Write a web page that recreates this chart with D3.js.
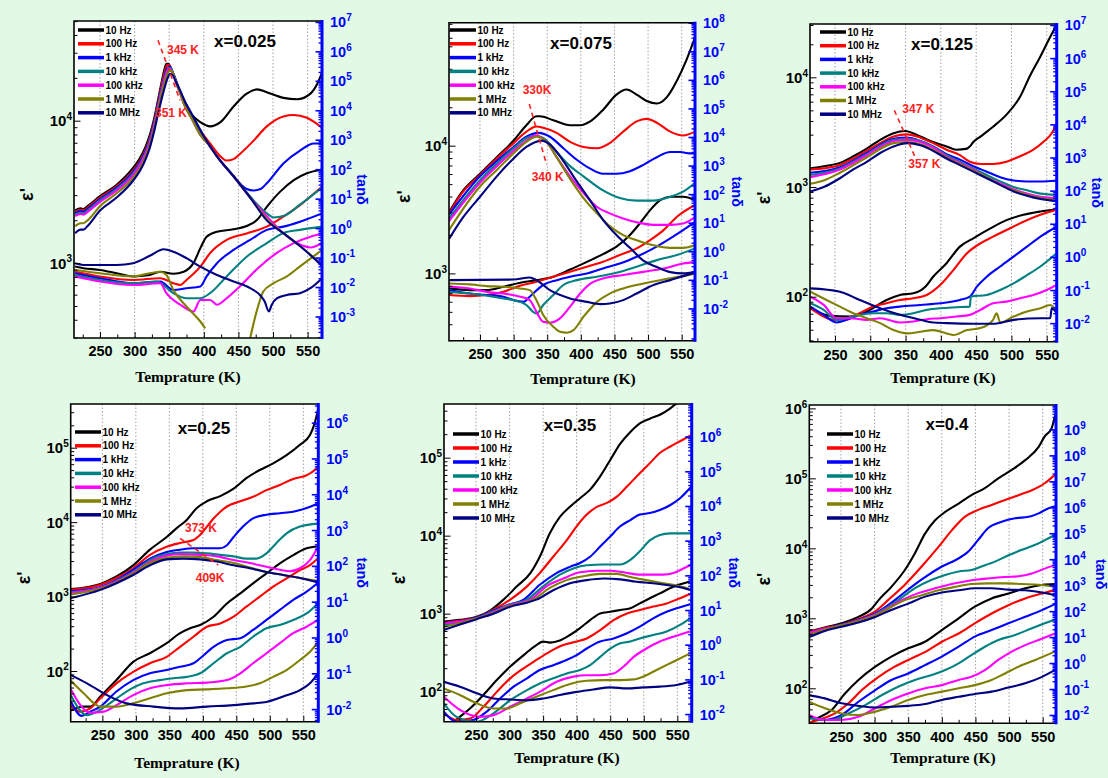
<!DOCTYPE html>
<html>
<head>
<meta charset="utf-8">
<script src="https://cdn.jsdelivr.net/npm/d3@7"></script>
<style>
  body { margin: 0; background: #e1f9e5; }
  svg { display: block; }
</style>
</head>
<body>
<svg width="1108" height="778"></svg>
<script>
const svg = d3.select('svg')

const freqs = ['10 Hz', '100 Hz', '1 kHz', '10 kHz', '100 kHz', '1 MHz', '10 MHz']
const colors = ['#000000', '#ff0000', '#0000ff', '#008080', '#ff00ff', '#808000', '#000080']
const titles = ['x=0.025', 'x=0.075', 'x=0.125', 'x=0.25', 'x=0.35', 'x=0.4']
const tempTicks = [250, 300, 350, 400, 450, 500, 550]
const tempMinor = [225, 275, 325, 375, 425, 475, 525, 575]

// every series: [temperature K, log10 of value], one array per frequency (10 Hz ... 10 MHz)
const eps025 = [
  [[214,3.37],[222,3.385],[226,3.38],[232,3.40],[250,3.47],[274,3.55],[298,3.67],[308,3.74],[316,3.82],[322,3.90],[328,4.01],[334,4.15],[339,4.27],[343,4.36],[346,4.40],[349,4.40],[353,4.36],[358,4.30],[364,4.22],[371,4.15],[383,4.04],[395,3.99],[409,3.96],[424,3.99],[443,4.10],[462,4.19],[477,4.22],[491,4.20],[515,4.16],[535,4.15],[554,4.19],[564,4.26],[571,4.34]],
  [[214,3.36],[222,3.375],[226,3.37],[232,3.39],[250,3.46],[274,3.54],[298,3.65],[308,3.72],[316,3.80],[322,3.88],[328,3.99],[334,4.13],[339,4.25],[344,4.35],[347,4.39],[350,4.39],[354,4.35],[359,4.29],[365,4.21],[371,4.14],[383,4.03],[395,3.93],[409,3.84],[424,3.75],[433,3.72],[443,3.73],[453,3.77],[472,3.86],[491,3.96],[515,4.03],[530,4.04],[549,4.02],[571,3.95]],
  [[214,3.35],[222,3.365],[226,3.36],[232,3.38],[250,3.45],[274,3.53],[298,3.64],[308,3.71],[316,3.79],[322,3.87],[328,3.98],[334,4.12],[340,4.25],[345,4.34],[348,4.38],[351,4.38],[355,4.34],[360,4.28],[365,4.21],[371,4.13],[383,4.02],[395,3.91],[409,3.82],[419,3.75],[443,3.61],[462,3.52],[472,3.51],[482,3.52],[491,3.56],[515,3.70],[539,3.79],[559,3.84],[571,3.84]],
  [[214,3.34],[222,3.355],[226,3.35],[232,3.37],[250,3.44],[274,3.52],[298,3.63],[308,3.70],[316,3.78],[322,3.86],[328,3.97],[334,4.11],[340,4.24],[345,4.33],[349,4.37],[352,4.37],[356,4.33],[361,4.26],[366,4.20],[371,4.13],[383,4.02],[395,3.91],[409,3.82],[419,3.75],[443,3.61],[453,3.55],[472,3.44],[491,3.35],[501,3.32],[515,3.33],[539,3.41],[571,3.53]],
  [[214,3.33],[222,3.345],[226,3.34],[232,3.36],[250,3.43],[274,3.51],[298,3.62],[308,3.69],[316,3.77],[322,3.85],[328,3.96],[334,4.10],[340,4.23],[345,4.32],[349,4.36],[352,4.36],[356,4.32],[361,4.25],[366,4.19],[371,4.12],[383,4.01],[395,3.90],[409,3.82],[419,3.75],[443,3.61],[467,3.46],[491,3.33],[515,3.21],[539,3.13],[554,3.11],[571,3.14]],
  [[214,3.26],[222,3.28],[226,3.28],[232,3.30],[250,3.40],[274,3.49],[298,3.60],[308,3.67],[316,3.75],[322,3.83],[328,3.94],[334,4.08],[340,4.21],[346,4.31],[350,4.35],[353,4.35],[357,4.31],[362,4.24],[367,4.18],[371,4.12],[383,4.01],[395,3.90],[409,3.82],[419,3.75],[443,3.61],[467,3.46],[491,3.31],[515,3.21],[539,3.12],[571,2.99]],
  [[214,3.21],[222,3.235],[226,3.235],[232,3.26],[250,3.37],[274,3.46],[298,3.58],[308,3.65],[316,3.73],[322,3.81],[328,3.92],[334,4.05],[341,4.19],[347,4.29],[351,4.33],[355,4.32],[360,4.27],[366,4.21],[373,4.13],[380,4.07],[390,3.98],[400,3.89],[419,3.75],[443,3.61],[467,3.46],[491,3.30],[515,3.21],[539,3.12],[571,2.98]]
]
const tan025 = [
  [[214,-1.30],[226,-1.36],[250,-1.42],[274,-1.53],[298,-1.64],[322,-1.59],[337,-1.48],[356,-1.55],[371,-1.48],[385,-1.19],[395,-0.68],[404,-0.29],[419,-0.12],[443,-0.04],[462,0.07],[477,0.28],[491,0.72],[510,1.23],[530,1.63],[549,1.86],[571,1.99]],
  [[214,-1.47],[250,-1.64],[298,-1.76],[337,-1.70],[356,-1.87],[366,-1.93],[375,-1.76],[395,-1.31],[409,-0.85],[433,-0.40],[462,-0.18],[491,0.05],[515,0.39],[539,0.78],[571,1.41]],
  [[214,-1.53],[250,-1.70],[298,-1.87],[337,-1.81],[356,-2.10],[375,-2.04],[395,-1.98],[404,-1.64],[419,-1.19],[443,-0.74],[467,-0.40],[491,-0.06],[515,0.05],[539,0.22],[571,0.50]],
  [[214,-1.59],[250,-1.76],[298,-1.87],[332,-1.81],[356,-2.21],[375,-2.38],[395,-2.38],[409,-2.21],[433,-1.64],[462,-0.97],[491,-0.51],[515,-0.17],[539,-0.06],[571,0.05]],
  [[214,-1.64],[250,-1.81],[298,-1.93],[337,-1.87],[346,-2.21],[366,-2.60],[385,-2.83],[395,-2.44],[409,-2.44],[419,-2.60],[433,-2.38],[452,-1.98],[481,-1.30],[505,-0.85],[530,-0.51],[554,-0.29],[571,-0.18]],
  [[214,-1.42],[250,-1.53],[298,-1.64],[322,-1.53],[337,-1.48],[346,-1.59],[356,-2.10],[375,-2.66],[395,-3.17],[402,-3.40],[402,null],[467,-3.73],[477,-2.77],[486,-2.15],[501,-1.87],[520,-1.64],[539,-1.30],[571,-0.74]],
  [[214,-1.19],[226,-1.25],[250,-1.25],[274,-1.25],[298,-1.19],[322,-0.94],[342,-0.72],[356,-0.80],[375,-1.02],[395,-1.31],[419,-1.59],[443,-1.81],[467,-2.04],[481,-2.27],[488,-2.49],[494,-2.83],[498,-2.61],[506,-2.38],[520,-2.27],[539,-2.21],[554,-2.04],[571,-1.70]]
]

const eps075 = [
  [[204,3.48],[225,3.65],[250,3.78],[275,3.91],[300,4.04],[319,4.16],[334,4.23],[339,4.23],[359,4.20],[384,4.16],[399,4.16],[414,4.19],[433,4.28],[453,4.40],[468,4.44],[483,4.40],[498,4.35],[513,4.33],[528,4.38],[543,4.51],[557,4.67],[570,4.85]],
  [[204,3.47],[225,3.64],[250,3.77],[275,3.90],[300,4.02],[319,4.11],[334,4.15],[344,4.14],[364,4.10],[384,4.03],[404,3.99],[424,3.98],[443,4.02],[463,4.11],[483,4.19],[498,4.21],[513,4.18],[533,4.11],[552,4.08],[570,4.11]],
  [[204,3.46],[250,3.76],[275,3.88],[300,3.99],[319,4.07],[337,4.10],[354,4.07],[374,3.98],[394,3.89],[414,3.82],[433,3.78],[453,3.78],[473,3.80],[493,3.85],[513,3.91],[533,3.95],[548,3.95],[562,3.94],[570,3.94]],
  [[204,3.43],[250,3.73],[275,3.86],[300,3.98],[319,4.06],[332,4.08],[344,4.06],[364,3.95],[384,3.84],[404,3.76],[433,3.65],[458,3.59],[483,3.57],[508,3.57],[533,3.60],[552,3.64],[570,3.71]],
  [[204,3.41],[250,3.71],[275,3.84],[300,3.96],[319,4.04],[332,4.08],[349,4.03],[364,3.91],[384,3.76],[404,3.63],[424,3.52],[443,3.47],[463,3.43],[483,3.40],[508,3.38],[533,3.38],[552,3.39],[570,3.44]],
  [[204,3.34],[250,3.68],[275,3.81],[300,3.94],[319,4.03],[334,4.07],[349,4.03],[364,3.91],[384,3.74],[404,3.59],[424,3.47],[443,3.37],[463,3.30],[483,3.26],[508,3.22],[533,3.20],[552,3.20],[570,3.22]],
  [[204,3.27],[225,3.44],[250,3.60],[275,3.76],[300,3.90],[319,3.99],[342,4.04],[354,4.01],[374,3.88],[394,3.72],[414,3.57],[433,3.42],[453,3.30],[473,3.20],[493,3.10],[513,3.05],[533,3.01],[552,3.00],[570,3.01]]
]
const tan075 = [
  [[204,-1.30],[235,-1.36],[260,-1.36],[285,-1.24],[310,-1.10],[334,-1.01],[359,-0.89],[384,-0.64],[409,-0.37],[433,-0.10],[453,0.16],[473,0.57],[488,0.98],[503,1.44],[518,1.79],[533,1.91],[552,1.91],[570,1.79]],
  [[204,-1.53],[235,-1.57],[260,-1.53],[285,-1.42],[305,-1.24],[334,-1.07],[359,-0.89],[384,-0.72],[409,-0.54],[433,-0.37],[458,-0.13],[483,0.10],[503,0.39],[523,0.74],[543,1.21],[570,1.62]],
  [[204,-1.36],[235,-1.48],[260,-1.53],[285,-1.59],[300,-1.71],[315,-1.77],[324,-1.59],[344,-1.18],[364,-1.01],[384,-0.89],[409,-0.78],[433,-0.60],[458,-0.43],[483,-0.19],[508,0.10],[533,0.45],[552,0.74],[570,1.03]],
  [[204,-1.42],[235,-1.48],[285,-1.65],[300,-1.71],[319,-1.88],[329,-2.12],[334,-2.18],[344,-1.88],[359,-1.53],[374,-1.18],[394,-1.01],[424,-0.89],[453,-0.75],[483,-0.54],[513,-0.31],[543,-0.13],[570,0.10]],
  [[204,-1.24],[235,-1.30],[260,-1.42],[285,-1.48],[310,-1.59],[324,-1.71],[334,-2.12],[344,-2.47],[354,-2.50],[369,-2.35],[384,-1.94],[399,-1.48],[414,-1.13],[433,-0.95],[463,-0.83],[493,-0.72],[523,-0.60],[552,-0.43],[570,-0.37]],
  [[204,-1.13],[235,-1.16],[260,-1.22],[285,-1.24],[310,-1.30],[324,-1.36],[334,-1.71],[344,-2.23],[359,-2.64],[369,-2.82],[379,-2.85],[389,-2.76],[404,-2.29],[424,-1.77],[443,-1.48],[463,-1.30],[493,-1.13],[523,-0.99],[552,-0.87],[570,-0.78]],
  [[204,-1.01],[300,-0.99],[324,-0.92],[334,-1.01],[354,-1.36],[384,-1.65],[409,-1.77],[429,-1.85],[443,-1.83],[463,-1.71],[483,-1.48],[508,-1.18],[533,-1.01],[552,-0.87],[570,-0.75]]
]

const eps125 = [
  [[215,3.17],[234,3.19],[257,3.22],[276,3.28],[295,3.35],[314,3.43],[333,3.49],[349,3.51],[371,3.46],[389,3.41],[408,3.37],[422,3.34],[437,3.35],[441,3.37],[446,3.41],[456,3.46],[474,3.55],[493,3.66],[512,3.82],[526,4.01],[541,4.19],[555,4.37],[564,4.48]],
  [[215,3.16],[234,3.17],[257,3.20],[276,3.26],[295,3.33],[314,3.40],[333,3.46],[352,3.48],[371,3.45],[389,3.40],[408,3.34],[427,3.29],[441,3.23],[456,3.21],[474,3.21],[493,3.23],[512,3.28],[531,3.34],[545,3.41],[557,3.49],[564,3.58]],
  [[215,3.13],[257,3.18],[295,3.31],[333,3.44],[352,3.45],[371,3.42],[389,3.37],[408,3.30],[427,3.25],[446,3.19],[465,3.14],[484,3.09],[503,3.06],[522,3.05],[541,3.05],[564,3.06]],
  [[215,3.11],[257,3.17],[295,3.30],[333,3.43],[352,3.44],[371,3.42],[389,3.37],[408,3.29],[427,3.23],[446,3.17],[465,3.11],[484,3.05],[503,3.00],[522,2.97],[541,2.94],[564,2.93]],
  [[215,3.09],[257,3.16],[295,3.29],[333,3.42],[352,3.43],[371,3.41],[389,3.36],[408,3.28],[427,3.22],[446,3.16],[465,3.09],[484,3.03],[503,2.98],[522,2.94],[541,2.91],[564,2.90]],
  [[215,3.03],[234,3.06],[257,3.13],[295,3.27],[333,3.40],[352,3.41],[371,3.39],[389,3.34],[408,3.27],[427,3.21],[446,3.15],[465,3.09],[484,3.02],[503,2.97],[522,2.93],[541,2.90],[564,2.88]],
  [[215,2.96],[234,3.00],[257,3.08],[276,3.16],[295,3.23],[314,3.31],[333,3.37],[353,3.40],[371,3.38],[389,3.33],[408,3.26],[427,3.20],[446,3.14],[465,3.08],[484,3.02],[503,2.96],[522,2.92],[541,2.89],[564,2.87]]
]
const tan125 = [
  [[215,-1.55],[243,-1.78],[271,-1.80],[295,-1.65],[323,-1.30],[342,-1.15],[361,-1.10],[378,-0.90],[389,-0.60],[408,-0.19],[427,0.31],[446,0.56],[470,0.86],[493,1.11],[517,1.27],[541,1.37],[564,1.44]],
  [[215,-1.55],[234,-1.80],[248,-1.90],[267,-1.85],[285,-1.70],[304,-1.50],[323,-1.40],[342,-1.30],[361,-1.25],[380,-1.15],[399,-0.85],[418,-0.39],[437,0.11],[456,0.41],[474,0.61],[493,0.81],[517,1.06],[541,1.27],[564,1.42]],
  [[215,-1.50],[234,-1.75],[252,-1.98],[267,-1.90],[285,-1.75],[304,-1.65],[323,-1.55],[342,-1.50],[371,-1.45],[399,-1.40],[427,-1.30],[441,-1.20],[451,-0.90],[465,-0.60],[484,-0.29],[503,0.01],[522,0.31],[541,0.61],[564,0.91]],
  [[215,-1.40],[234,-1.60],[252,-1.90],[267,-1.85],[285,-1.75],[304,-1.70],[323,-1.70],[342,-1.75],[361,-1.70],[380,-1.60],[399,-1.55],[422,-1.52],[441,-1.50],[442.5,-1.20],[465,-1.15],[484,-1.00],[503,-0.80],[522,-0.55],[541,-0.29],[564,0.11]],
  [[215,-1.20],[234,-1.45],[252,-1.85],[271,-1.85],[295,-1.90],[314,-1.85],[342,-1.98],[361,-1.95],[380,-1.88],[399,-1.85],[422,-1.80],[441,-1.75],[456,-1.60],[474,-1.40],[493,-1.35],[512,-1.25],[531,-1.15],[550,-1.00],[564,-0.85]],
  [[215,-1.05],[238,-1.30],[257,-1.50],[276,-1.70],[295,-1.85],[314,-2.00],[333,-2.21],[352,-2.31],[371,-2.26],[389,-2.21],[408,-2.31],[418,-2.36],[437,-2.21],[456,-2.15],[474,-1.90],[479,-1.70],[484,-1.98],[503,-1.80],[522,-1.65],[541,-1.55],[555,-1.45],[564,-1.65]],
  [[215,-0.95],[257,-1.05],[285,-1.30],[314,-1.55],[342,-1.75],[371,-1.90],[389,-1.98],[408,-2.00],[446,-2.02],[474,-2.02],[503,-1.90],[541,-1.85],[555,-1.85],[557,-1.55],[564,-1.70]]
]

const eps25 = [
  [[203,3.10],[247,3.17],[271,3.27],[296,3.42],[321,3.63],[346,3.80],[361,3.92],[376,4.03],[391,4.19],[406,4.28],[426,4.35],[446,4.45],[465,4.59],[485,4.70],[505,4.79],[525,4.90],[545,5.04],[560,5.17],[567,5.33],[572,5.51]],
  [[203,3.09],[247,3.16],[271,3.25],[296,3.38],[321,3.56],[346,3.67],[366,3.72],[386,3.76],[396,3.83],[416,4.05],[436,4.21],[456,4.28],[475,4.34],[495,4.43],[515,4.50],[535,4.58],[555,4.63],[567,4.70],[572,4.75]],
  [[203,3.07],[247,3.13],[271,3.22],[296,3.36],[321,3.51],[346,3.60],[366,3.63],[386,3.65],[406,3.65],[426,3.65],[436,3.69],[446,3.80],[460,3.94],[475,4.05],[495,4.10],[515,4.12],[535,4.14],[555,4.19],[572,4.25]],
  [[203,3.06],[247,3.12],[271,3.21],[296,3.33],[321,3.49],[346,3.57],[366,3.59],[386,3.59],[406,3.58],[426,3.56],[446,3.54],[465,3.51],[480,3.51],[495,3.58],[510,3.72],[525,3.85],[545,3.94],[572,3.98]],
  [[203,3.05],[247,3.12],[271,3.20],[296,3.32],[321,3.47],[346,3.55],[366,3.57],[396,3.56],[421,3.54],[446,3.49],[470,3.45],[495,3.40],[515,3.36],[530,3.34],[545,3.38],[560,3.49],[572,3.67]],
  [[203,3.03],[247,3.11],[271,3.19],[296,3.31],[321,3.45],[346,3.52],[371,3.54],[396,3.53],[421,3.49],[446,3.45],[470,3.39],[495,3.33],[520,3.29],[545,3.25],[572,3.21]],
  [[203,2.98],[247,3.09],[271,3.18],[296,3.29],[321,3.42],[346,3.50],[371,3.51],[396,3.50],[421,3.47],[446,3.42],[470,3.38],[495,3.33],[520,3.29],[545,3.25],[572,3.19]]
]
const tan25 = [
  [[203,-2.03],[222,-1.93],[232,-1.93],[247,-1.65],[271,-1.19],[296,-0.68],[321,-0.44],[346,-0.16],[366,0.12],[381,0.26],[396,0.35],[416,0.58],[436,0.95],[456,1.23],[475,1.51],[495,1.79],[515,2.07],[535,2.30],[555,2.49],[572,2.54]],
  [[203,-1.91],[217,-2.07],[232,-1.98],[247,-1.70],[271,-1.28],[296,-0.96],[321,-0.72],[346,-0.54],[366,-0.26],[386,0.02],[406,0.30],[426,0.39],[446,0.58],[465,0.86],[485,1.14],[505,1.42],[525,1.65],[545,1.88],[560,2.02],[572,2.21]],
  [[203,-1.79],[219,-2.19],[232,-2.07],[247,-1.93],[271,-1.51],[296,-1.19],[321,-1.00],[346,-0.91],[366,-0.82],[386,-0.72],[396,-0.58],[416,-0.26],[436,-0.07],[456,-0.02],[475,0.21],[495,0.49],[515,0.77],[535,1.05],[555,1.28],[572,1.53]],
  [[203,-1.61],[227,-2.17],[242,-2.07],[261,-1.84],[286,-1.51],[311,-1.28],[336,-1.19],[356,-1.14],[376,-1.10],[396,-1.00],[416,-0.72],[436,-0.44],[456,-0.26],[475,0.02],[495,0.26],[515,0.35],[535,0.49],[555,0.67],[572,0.95]],
  [[203,-1.45],[232,-2.10],[252,-2.07],[271,-1.89],[296,-1.61],[321,-1.42],[346,-1.33],[376,-1.28],[406,-1.26],[436,-1.19],[456,-1.00],[475,-0.72],[495,-0.44],[515,-0.16],[535,0.12],[555,0.30],[572,0.49]],
  [[203,-1.21],[222,-1.56],[247,-1.93],[271,-1.93],[296,-1.84],[321,-1.70],[346,-1.56],[376,-1.47],[406,-1.45],[436,-1.42],[465,-1.37],[485,-1.28],[505,-1.10],[525,-0.91],[545,-0.63],[560,-0.40],[572,-0.12]],
  [[203,-1.05],[227,-1.28],[257,-1.61],[286,-1.84],[326,-1.93],[366,-1.98],[406,-1.93],[446,-1.89],[475,-1.84],[495,-1.80],[520,-1.65],[545,-1.47],[560,-1.28],[572,-1.00]]
]

const eps35 = [
  [[202,2.90],[226,2.92],[251,2.96],[271,3.04],[291,3.18],[311,3.35],[331,3.52],[345,3.73],[360,4.03],[375,4.24],[390,4.37],[405,4.48],[420,4.59],[435,4.76],[450,4.97],[465,5.18],[480,5.33],[494,5.44],[509,5.50],[524,5.55],[539,5.63],[552,5.72]],
  [[202,2.89],[226,2.91],[251,2.95],[276,3.05],[301,3.18],[326,3.35],[345,3.52],[365,3.73],[385,3.94],[400,4.12],[415,4.27],[430,4.37],[445,4.42],[460,4.50],[475,4.63],[494,4.80],[509,4.93],[524,5.06],[539,5.14],[554,5.21],[571,5.29]],
  [[202,2.88],[226,2.90],[251,2.95],[276,3.04],[301,3.12],[321,3.18],[345,3.37],[370,3.52],[390,3.60],[405,3.65],[420,3.73],[435,3.86],[450,3.99],[465,4.12],[480,4.20],[494,4.27],[509,4.29],[524,4.33],[539,4.39],[554,4.48],[571,4.63]],
  [[202,2.86],[226,2.89],[251,2.94],[276,3.03],[301,3.12],[326,3.18],[350,3.35],[375,3.50],[395,3.58],[415,3.62],[440,3.63],[465,3.63],[480,3.69],[494,3.80],[509,3.94],[524,4.01],[539,4.03],[571,4.03]],
  [[202,2.88],[226,2.90],[251,2.94],[276,3.02],[301,3.11],[321,3.15],[331,3.18],[355,3.35],[380,3.45],[405,3.53],[430,3.55],[450,3.55],[470,3.53],[494,3.50],[514,3.50],[529,3.50],[544,3.52],[559,3.58],[571,3.63]],
  [[202,2.83],[226,2.88],[251,2.94],[276,3.01],[301,3.10],[326,3.15],[335,3.18],[360,3.33],[385,3.43],[410,3.48],[435,3.51],[460,3.51],[480,3.47],[504,3.43],[529,3.39],[549,3.36],[571,3.31]],
  [[202,2.79],[226,2.86],[251,2.93],[276,3.00],[301,3.09],[326,3.14],[340,3.18],[365,3.30],[390,3.39],[415,3.43],[440,3.45],[465,3.44],[489,3.41],[514,3.39],[539,3.36],[559,3.33],[571,3.30]]
]
const tan35 = [
  [[211,-2.32],[226,-2.08],[241,-1.84],[261,-1.45],[281,-1.02],[301,-0.63],[321,-0.30],[340,-0.01],[350,0.09],[360,0.06],[375,0.12],[390,0.28],[405,0.48],[420,0.71],[435,0.90],[450,0.95],[465,1.00],[480,1.05],[494,1.19],[509,1.34],[524,1.48],[544,1.67],[569,1.82]],
  [[202,-1.98],[221,-2.17],[241,-2.13],[261,-1.79],[281,-1.36],[301,-0.97],[321,-0.68],[340,-0.44],[360,-0.20],[380,-0.01],[400,0.09],[415,0.18],[435,0.42],[455,0.71],[475,0.90],[494,1.00],[514,1.10],[534,1.19],[554,1.34],[569,1.46]],
  [[202,-1.93],[221,-2.22],[246,-2.17],[266,-1.93],[286,-1.55],[306,-1.21],[326,-0.97],[345,-0.73],[365,-0.59],[385,-0.44],[400,-0.30],[415,-0.11],[435,0.09],[455,0.18],[475,0.33],[494,0.52],[514,0.76],[534,0.95],[554,1.08],[569,1.17]],
  [[202,-1.69],[221,-2.08],[251,-2.22],[276,-1.98],[301,-1.60],[326,-1.31],[345,-1.12],[365,-0.97],[385,-0.83],[405,-0.73],[420,-0.59],[435,-0.35],[450,-0.11],[465,0.04],[480,0.09],[494,0.18],[514,0.28],[534,0.38],[554,0.57],[569,0.76]],
  [[202,-1.50],[226,-1.88],[256,-2.08],[276,-2.03],[301,-1.79],[326,-1.55],[345,-1.36],[370,-1.07],[395,-0.92],[415,-0.88],[435,-0.88],[455,-0.83],[470,-0.63],[485,-0.35],[504,-0.11],[524,0.09],[544,0.23],[569,0.38]],
  [[202,-1.26],[226,-1.45],[251,-1.69],[276,-1.84],[296,-1.84],[316,-1.69],[340,-1.50],[365,-1.31],[390,-1.13],[415,-1.04],[440,-1.02],[465,-1.02],[485,-1.00],[499,-0.92],[519,-0.73],[544,-0.49],[569,-0.25]],
  [[202,-1.07],[226,-1.21],[251,-1.40],[276,-1.55],[301,-1.58],[326,-1.60],[350,-1.55],[375,-1.45],[400,-1.36],[425,-1.29],[450,-1.23],[475,-1.26],[499,-1.23],[524,-1.21],[549,-1.16],[569,-1.07]]
]

const eps4 = [
  [[202,2.81],[226,2.87],[251,2.93],[276,3.02],[296,3.14],[306,3.26],[325,3.45],[345,3.69],[360,3.93],[375,4.21],[390,4.40],[405,4.52],[425,4.64],[444,4.76],[464,4.86],[484,5.00],[504,5.12],[524,5.26],[544,5.45],[553,5.60],[563,5.71],[568,5.88],[571,6.00]],
  [[202,2.80],[226,2.86],[251,2.91],[276,2.99],[301,3.10],[320,3.26],[345,3.48],[370,3.74],[395,4.02],[415,4.26],[434,4.45],[454,4.55],[474,4.62],[494,4.69],[514,4.76],[534,4.83],[553,4.93],[568,5.05]],
  [[202,2.79],[226,2.85],[251,2.91],[276,2.98],[301,3.07],[330,3.26],[355,3.45],[380,3.62],[400,3.74],[420,3.83],[439,3.95],[454,4.12],[469,4.29],[489,4.38],[509,4.43],[529,4.45],[544,4.50],[558,4.57],[568,4.60]],
  [[202,2.77],[226,2.84],[251,2.90],[276,2.97],[301,3.06],[335,3.26],[360,3.43],[385,3.55],[405,3.62],[425,3.67],[444,3.69],[459,3.74],[479,3.81],[499,3.90],[519,3.98],[539,4.05],[558,4.14],[568,4.19]],
  [[202,2.79],[226,2.85],[251,2.90],[276,2.97],[301,3.05],[340,3.26],[365,3.36],[390,3.43],[410,3.48],[430,3.52],[449,3.55],[469,3.57],[494,3.59],[514,3.60],[534,3.64],[553,3.71],[568,3.76]],
  [[202,2.76],[226,2.84],[251,2.90],[276,2.96],[301,3.04],[345,3.26],[370,3.33],[395,3.40],[420,3.45],[444,3.49],[469,3.50],[494,3.50],[519,3.49],[544,3.48],[568,3.45]],
  [[202,2.73],[226,2.82],[251,2.88],[276,2.94],[301,3.02],[325,3.12],[350,3.21],[375,3.31],[400,3.37],[425,3.40],[449,3.43],[474,3.43],[499,3.41],[524,3.40],[549,3.37],[568,3.33]]
]
const tan4 = [
  [[202,-2.39],[211,-2.19],[236,-1.81],[256,-1.17],[276,-0.65],[301,-0.14],[325,0.25],[350,0.57],[375,0.82],[400,1.27],[425,1.72],[449,2.17],[474,2.49],[499,2.68],[524,2.88],[549,3.01],[568,3.04]],
  [[202,-2.30],[216,-2.19],[241,-1.94],[261,-1.55],[281,-1.04],[306,-0.53],[330,-0.14],[355,0.18],[380,0.50],[400,0.82],[425,1.14],[449,1.53],[474,1.91],[499,2.23],[524,2.49],[549,2.68],[568,2.81]],
  [[202,-2.07],[226,-2.19],[251,-2.00],[276,-1.49],[301,-1.04],[325,-0.65],[350,-0.40],[375,-0.08],[400,0.25],[425,0.63],[449,1.02],[474,1.27],[499,1.53],[524,1.78],[549,2.04],[568,2.27]],
  [[202,-2.13],[236,-2.19],[261,-1.94],[286,-1.62],[311,-1.23],[335,-0.91],[360,-0.65],[385,-0.46],[405,-0.27],[425,-0.01],[444,0.31],[464,0.63],[484,0.89],[509,1.08],[534,1.34],[553,1.53],[568,1.68]],
  [[202,-2.00],[226,-2.19],[251,-2.19],[276,-2.07],[301,-1.74],[325,-1.42],[350,-1.17],[375,-0.97],[400,-0.85],[425,-0.65],[444,-0.53],[464,-0.27],[484,0.12],[504,0.44],[524,0.69],[544,0.89],[568,1.14]],
  [[202,-1.49],[226,-1.74],[251,-1.94],[276,-2.00],[301,-1.87],[325,-1.68],[350,-1.42],[375,-1.23],[400,-1.10],[425,-0.97],[449,-0.85],[474,-0.65],[494,-0.40],[514,-0.14],[539,0.12],[568,0.44]],
  [[202,-1.23],[226,-1.36],[251,-1.55],[276,-1.65],[301,-1.71],[325,-1.68],[350,-1.65],[375,-1.58],[400,-1.42],[425,-1.30],[449,-1.19],[474,-1.10],[499,-0.94],[524,-0.78],[549,-0.53],[568,-0.27]]
]

// peak temperature notes: [T, log10 eps'] where the text sits, dashed guide between two points
const notes025 = { labels: [[346.8, 4.467, '345 K'], [329.5, 4.025, '351 K']], dash: [[333.8, 4.565], [365.6, 4.144]] }
const notes075 = { labels: [[313.5, 4.405, '330K'], [326.9, 3.723, '340 K']], dash: [[323.3, 4.326], [349.2, 3.849]] }
const notes125 = { labels: [[345.4, 3.672, '347 K'], [353.9, 3.176, '357 K']], dash: [[334, 3.70], [363.3, 3.276]] }
const notes25 = { labels: [[373.4, 3.871, '373 K'], [389.4, 3.191, '409K']], dash: [[365.9, 3.783], [423.1, 3.424]] }

const panels = [
  { eps: eps025, tan: tan025, notes: notes025, box: {l: 74, r: 322, t: 21, b: 338},
    xDom: [212.4, 570.8], epsDom: [2.474, 4.70], tanDom: [-3.73, 7.03], epsExp: [3, 4], tanExp: d3.range(-3, 8),
    title: [171, 26], legend: [4, 9, 13.8], epsLab: 33, tanLab: 363, xLab: [188, 382] },
  { eps: eps075, tan: tan075, notes: notes075, box: {l: 449, r: 695, t: 22.7, b: 340.7},
    xDom: [203.9, 569.8], epsDom: [2.473, 4.963], tanDom: [-3.13, 8.0], epsExp: [3, 4], tanExp: d3.range(-2, 9),
    title: [132, 26.3], legend: [1, 7.3, 13.8], epsLab: 410, tanLab: 738, xLab: [583, 384] },
  { eps: eps125, tan: tan125, notes: notes125, box: {l: 810, r: 1056.7, t: 24, b: 341.7},
    xDom: [214.6, 564.1], epsDom: [1.59, 4.486], tanDom: [-2.56, 7.03], epsExp: [2, 3, 4], tanExp: d3.range(-2, 8),
    title: [132, 26], legend: [10, 8, 13.7], epsLab: 770, tanLab: 1098, xLab: [943, 383] },
  { eps: eps25, tan: tan25, notes: notes25, box: {l: 70.7, r: 318.3, t: 404, b: 721.7},
    xDom: [202.7, 572.4], epsDom: [1.319, 5.587], tanDom: [-2.352, 6.52], epsExp: [2, 3, 4, 5], tanExp: d3.range(-2, 7),
    title: [133.3, 30], legend: [4.3, 28, 13.8], epsLab: 30, tanLab: 363, xLab: [187, 768] },
  { eps: eps35, tan: tan35, notes: null, box: {l: 444, r: 691.7, t: 404, b: 721.7},
    xDom: [202.3, 571.4], epsDom: [1.615, 5.688], tanDom: [-2.22, 6.94], epsExp: [2, 3, 4, 5], tanExp: d3.range(-2, 7),
    title: [126, 27], legend: [9, 30, 14], epsLab: 405, tanLab: 735, xLab: [567, 763] },
  { eps: eps4, tan: tan4, notes: null, box: {l: 809.3, r: 1056, t: 405, b: 723.3},
    xDom: [202.9, 569.8], epsDom: [1.50, 6.048], tanDom: [-2.32, 9.94], epsExp: [2, 3, 4, 5, 6], tanExp: d3.range(-2, 10),
    title: [137.7, 25], legend: [17.7, 29, 14], epsLab: 770, tanLab: 1102, xLab: [943, 763] }
]

const sans = "'Liberation Sans', Arial, sans-serif"
const serif = "'Liberation Serif', 'Times New Roman', serif"
const blue = '#0000ff'

svg.append('rect').attr('width', 1108).attr('height', 778).attr('fill', '#e1f9e5')

// 2..9 times every decade inside [lo, hi] (exponents)
const minorLog = (lo, hi) => {
  const out = []
  for (let k = Math.floor(lo); k <= Math.ceil(hi); k++) {
    for (let m = 2; m <= 9; m++) {
      const lv = Math.log10(m) + k
      if (lv > lo && lv < hi) out.push(m * 10 ** k)
    }
  }
  return out
}

const powLabel = (sel, exp, size, supSize) => {
  sel.append('tspan').text('10')
  sel.append('tspan').attr('dy', -size * 0.42).attr('font-size', supSize).text(String(exp))
}

panels.forEach((p, i) => {
  const {l, r, t, b} = p.box
  const x = d3.scaleLinear().domain(p.xDom).range([l, r])
  const yL = d3.scaleLog().domain([10 ** p.epsDom[0], 10 ** p.epsDom[1]]).range([b, t])
  const yR = d3.scaleLog().domain([10 ** p.tanDom[0], 10 ** p.tanDom[1]]).range([b, t])
  const g = svg.append('g')

  g.append('rect').attr('x', l).attr('y', t).attr('width', r - l).attr('height', b - t).attr('fill', '#ffffff')

  g.selectAll('line.grid').data(tempTicks).enter().append('line').attr('class', 'grid')
    .attr('x1', d => x(d)).attr('x2', d => x(d)).attr('y1', t).attr('y2', b)
    .attr('stroke', '#8a8a8a').attr('stroke-width', 0.8).attr('stroke-dasharray', '1.5,2')

  g.append('clipPath').attr('id', 'clip' + i).append('rect')
    .attr('x', l).attr('y', t).attr('width', r - l).attr('height', b - t)

  const lineL = d3.line().defined(d => d[1] !== null)
    .x(d => x(d[0])).y(d => yL(10 ** d[1])).curve(d3.curveMonotoneX)
  const lineR = d3.line().defined(d => d[1] !== null)
    .x(d => x(d[0])).y(d => yR(10 ** d[1])).curve(d3.curveMonotoneX)

  const plot = g.append('g').attr('clip-path', `url(#clip${i})`)
  plot.selectAll('path.tan').data(p.tan).enter().append('path').attr('class', 'tan')
    .attr('d', lineR).attr('fill', 'none').attr('stroke', (d, k) => colors[k])
    .attr('stroke-width', 2.1).attr('stroke-linejoin', 'round')
  plot.selectAll('path.eps').data(p.eps).enter().append('path').attr('class', 'eps')
    .attr('d', lineL).attr('fill', 'none').attr('stroke', (d, k) => colors[k])
    .attr('stroke-width', 2.1).attr('stroke-linejoin', 'round')

  // bottom axis
  const xAx = g.append('g').attr('transform', `translate(0,${b})`)
    .call(d3.axisBottom(x).tickValues(tempTicks).tickSizeInner(-6).tickSizeOuter(0).tickPadding(8).tickFormat(d3.format('d')))
  g.append('g').attr('transform', `translate(0,${b})`)
    .call(d3.axisBottom(x).tickValues(tempMinor.filter(v => v > p.xDom[0] && v < p.xDom[1])).tickSizeInner(-3.5).tickSizeOuter(0).tickFormat(''))
    .call(a => a.select('.domain').remove())
  xAx.select('.domain').remove()
  xAx.selectAll('text').attr('font-family', sans).attr('font-weight', 'bold').attr('font-size', 14.5).attr('fill', '#000')

  // left axis
  const ltick = 10
  g.append('g').attr('transform', `translate(${l},0)`)
    .call(d3.axisLeft(yL).tickValues(p.epsExp.map(e => 10 ** e)).tickSizeInner(-6.5).tickSizeOuter(0).tickFormat(''))
    .call(a => a.select('.domain').remove())
  g.append('g').attr('transform', `translate(${l},0)`)
    .call(d3.axisLeft(yL).tickValues(minorLog(p.epsDom[0], p.epsDom[1])).tickSizeInner(-3.5).tickSizeOuter(0).tickFormat(''))
    .call(a => a.select('.domain').remove())
  p.epsExp.forEach(e => {
    const tx = g.append('text').attr('x', l - 2).attr('y', yL(10 ** e) + 5.5)
      .attr('text-anchor', 'end').attr('font-family', sans).attr('font-weight', 'bold')
      .attr('font-size', 15).attr('fill', '#000')
    powLabel(tx, e, 15, ltick)
  })

  // right axis, blue
  const rAx = g.append('g').attr('transform', `translate(${r},0)`)
    .call(d3.axisRight(yR).tickValues(p.tanExp.map(e => 10 ** e)).tickSizeInner(-6.5).tickSizeOuter(0).tickFormat(''))
  const rMin = g.append('g').attr('transform', `translate(${r},0)`)
    .call(d3.axisRight(yR).tickValues(minorLog(p.tanDom[0], p.tanDom[1])).tickSizeInner(-3.5).tickSizeOuter(0).tickFormat(''))
  rAx.select('.domain').remove()
  rMin.select('.domain').remove()
  rAx.selectAll('line').attr('stroke', blue).attr('stroke-width', 1.6)
  rMin.selectAll('line').attr('stroke', blue).attr('stroke-width', 1.3)
  p.tanExp.forEach(e => {
    const tx = g.append('text').attr('x', r + 8).attr('y', yR(10 ** e) + 5.5)
      .attr('font-family', sans).attr('font-weight', 'bold').attr('font-size', 14.5).attr('fill', blue)
    powLabel(tx, e, 14.5, ltick)
  })

  // frame
  g.append('path').attr('d', `M${r},${t}H${l}V${b}H${r}`).attr('fill', 'none')
    .attr('stroke', '#000').attr('stroke-width', 1.6)
  g.append('line').attr('x1', r).attr('x2', r).attr('y1', t - 1).attr('y2', b + 1)
    .attr('stroke', blue).attr('stroke-width', 3)

  // titles and axis names
  g.append('text').attr('x', l + p.title[0]).attr('y', t + p.title[1]).attr('text-anchor', 'middle')
    .attr('font-family', sans).attr('font-weight', 'bold').attr('font-size', 17).text(titles[i])
  g.append('text').attr('x', p.xLab[0]).attr('y', p.xLab[1]).attr('text-anchor', 'middle')
    .attr('font-family', serif).attr('font-weight', 'bold').attr('font-size', 15.5).text('Temprature (K)')
  const midY = (t + b) / 2 + 15
  g.append('text').attr('transform', `translate(${p.epsLab},${midY}) rotate(-90)`).attr('text-anchor', 'middle')
    .attr('font-family', sans).attr('font-weight', 'bold').attr('font-size', 18).text("ε'")
  g.append('text').attr('transform', `translate(${p.tanLab - 6},${midY - 5}) rotate(90)`).attr('text-anchor', 'middle')
    .attr('font-family', sans).attr('font-weight', 'bold').attr('font-size', 14.5).attr('fill', blue).text('tanδ')

  // legend
  const [lx, ly, sp] = p.legend
  const leg = g.append('g').attr('transform', `translate(${l + lx},${t + ly})`)
  freqs.forEach((f, k) => {
    leg.append('line').attr('x1', 0).attr('x2', 26).attr('y1', k * sp).attr('y2', k * sp)
      .attr('stroke', colors[k]).attr('stroke-width', 3.5)
    leg.append('text').attr('x', 27.5).attr('y', k * sp + 3.6)
      .attr('font-family', sans).attr('font-weight', 'bold').attr('font-size', 10).text(f)
  })

  // peak temperature notes
  if (p.notes) {
    const [a, c] = p.notes.dash
    g.append('line').attr('x1', x(a[0])).attr('y1', yL(10 ** a[1])).attr('x2', x(c[0])).attr('y2', yL(10 ** c[1]))
      .attr('stroke', '#ff2020').attr('stroke-width', 1.6).attr('stroke-dasharray', '5,4')
    p.notes.labels.forEach(([tt, v, s]) => {
      g.append('text').attr('x', x(tt)).attr('y', yL(10 ** v))
        .attr('font-family', sans).attr('font-weight', 'bold').attr('font-size', 12).attr('fill', '#ff2020').text(s)
    })
  }
})
</script>
</body>
</html>
